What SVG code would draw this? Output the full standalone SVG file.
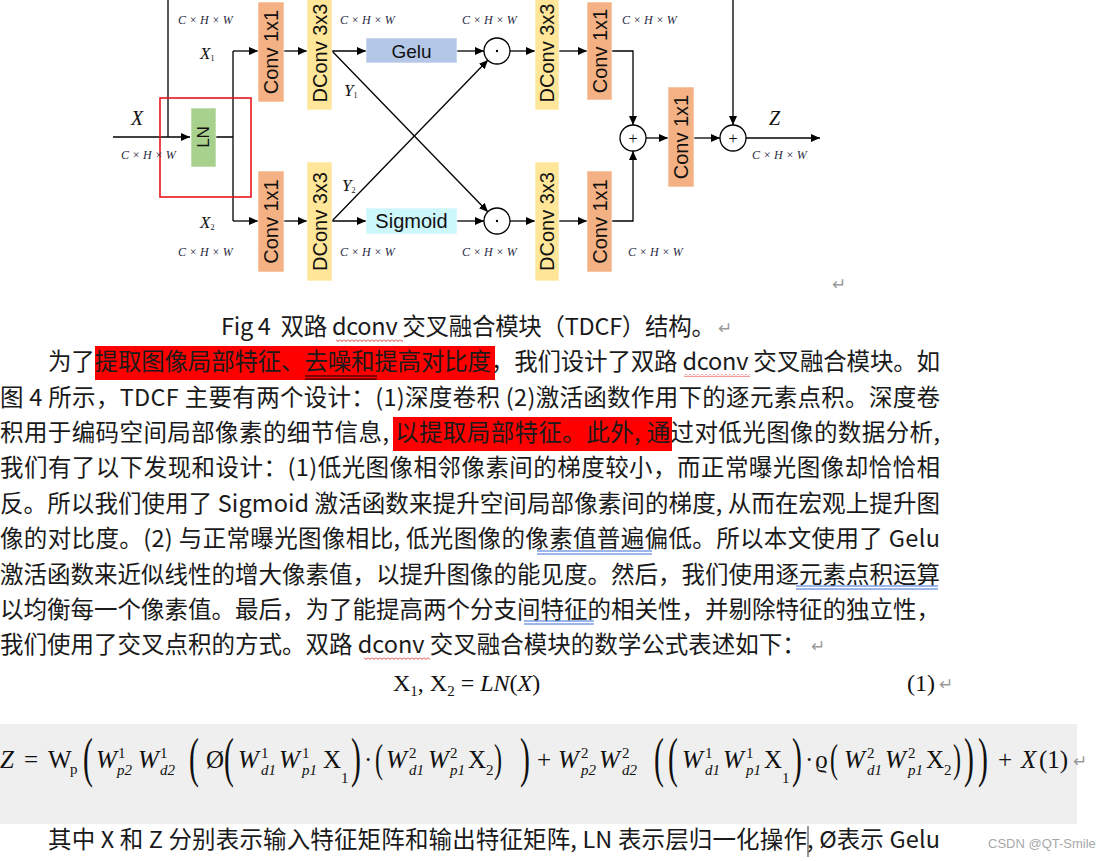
<svg xmlns="http://www.w3.org/2000/svg" width="1113" height="861" viewBox="0 0 1113 861">
<style>
.bx{stroke:#ffffff;stroke-width:1;stroke-opacity:0.6}
.conv{fill:#F4B183}
.dconv{fill:#FFE699}
.bt{font-family:"Liberation Sans",Arial,sans-serif;font-size:20px;fill:#111;text-anchor:middle;dominant-baseline:central}
.lbl{font-family:"Liberation Serif","Times New Roman",serif;font-style:italic;font-size:12px;fill:#2a2a44}
.var{font-family:"Liberation Serif","Times New Roman",serif;font-style:italic;font-size:20px;fill:#111}
.sub{font-size:8px;font-style:normal}
.e{stroke:#000;stroke-width:1.3;fill:none}
.ea{stroke:#000;stroke-width:1.3;fill:none;marker-end:url(#ah)}
.op{fill:#fff;stroke:#000;stroke-width:1.3}
.opt{font-family:"Liberation Serif",serif;font-size:16px;text-anchor:middle;dominant-baseline:central;fill:#000}
.body{font-family:"Noto Sans CJK SC","Noto Sans",sans-serif;font-size:23.5px;fill:#1a1a1a}
.ret{font-family:"DejaVu Sans",sans-serif;font-size:17px;fill:#9a9a9a}
.m{font-family:"Liberation Serif","Times New Roman",serif;font-size:25px;fill:#111}
.mi{font-family:"Liberation Serif","Times New Roman",serif;font-size:25px;font-style:italic;fill:#111}
.ms{font-family:"Liberation Serif","Times New Roman",serif;font-size:15px;fill:#111}
.msi{font-family:"Liberation Serif","Times New Roman",serif;font-size:15px;font-style:italic;fill:#111}
.bp{font-family:"Liberation Serif","Times New Roman",serif;font-size:54px;fill:#111}
.mp{font-family:"Liberation Serif","Times New Roman",serif;font-size:40px;fill:#111}
</style>
<defs>
<marker id="ah" viewBox="0 0 9 8" refX="9" refY="4" markerWidth="9" markerHeight="8" markerUnits="userSpaceOnUse" orient="auto"><path d="M0,0 L9,4 L0,8 z" fill="#000"/></marker>
<pattern id="wave" width="4" height="3" patternUnits="userSpaceOnUse"><path d="M0 0.5 L2 2.5 L4 0.5" stroke="#e02020" stroke-width="0.9" fill="none"/></pattern>
</defs>
<rect width="1113" height="861" fill="#fff"/>

<g id="connectors">
<path class="e" d="M168 0 V137"/>
<path class="ea" d="M113 137 H190"/>
<path class="e" d="M216 137 H233 M233 51 V221"/>
<path class="ea" d="M233 51 H258"/>
<path class="ea" d="M233 221 H258"/>
<path class="ea" d="M284 51 H307"/>
<path class="ea" d="M284 221 H307"/>
<path class="ea" d="M332 51 H366"/>
<path class="ea" d="M332 221 H366"/>
<path class="ea" d="M332 51 L488 212"/>
<path class="ea" d="M332 221 L488 60"/>
<path class="ea" d="M457 51 H484"/>
<path class="ea" d="M457 221 H484"/>
<path class="ea" d="M510 51 H535"/>
<path class="ea" d="M510 221 H535"/>
<path class="ea" d="M559 51 H587"/>
<path class="ea" d="M559 221 H587"/>
<path class="ea" d="M612 51 H633 V125"/>
<path class="ea" d="M612 221 H633 V151"/>
<path class="ea" d="M646 138 H668"/>
<path class="ea" d="M694 138 H720"/>
<path class="ea" d="M733 0 V125"/>
<path class="ea" d="M746 138 H820"/>
</g>

<g id="ln"><rect x="191" y="108" width="25" height="59" fill="#A9D18E" class="bx"/><text class="bt" transform="translate(203.5,137) rotate(-90)" style="font-size:17px">LN</text></g>
<rect x="160" y="98" width="91" height="99" fill="none" stroke="#e8161b" stroke-width="1.6"/>

<g id="conv1a"><rect class="conv bx" x="258" y="2" width="26" height="100"/><text class="bt" transform="translate(271,52) rotate(-90)">Conv 1x1</text></g>
<g id="dconv1a"><rect class="dconv bx" x="307" y="-2" width="25" height="112"/><text class="bt" transform="translate(319.5,53) rotate(-90)">DConv 3x3</text></g>
<g id="conv1b"><rect class="conv bx" x="258" y="171" width="26" height="101"/><text class="bt" transform="translate(271,221.5) rotate(-90)">Conv 1x1</text></g>
<g id="dconv1b"><rect class="dconv bx" x="307" y="162" width="25" height="119"/><text class="bt" transform="translate(319.5,221.5) rotate(-90)">DConv 3x3</text></g>

<g id="gelu"><rect x="366" y="38" width="91" height="25" fill="#B4C7E7" class="bx"/><text class="bt" x="411.5" y="51" style="font-size:19px">Gelu</text></g>
<g id="sigmoid"><rect x="366" y="208" width="91" height="26" fill="#CCF7FB" class="bx"/><text class="bt" x="411.5" y="221" style="font-size:20px">Sigmoid</text></g>

<g id="mul1"><circle class="op" cx="497" cy="51" r="13"/><circle cx="497" cy="51" r="1.2" fill="#000"/></g>
<g id="mul2"><circle class="op" cx="497" cy="221" r="13"/><circle cx="497" cy="221" r="1.2" fill="#000"/></g>

<g id="dconv2a"><rect class="dconv bx" x="535" y="-2" width="24" height="112"/><text class="bt" transform="translate(547,53) rotate(-90)">DConv 3x3</text></g>
<g id="conv2a"><rect class="conv bx" x="587" y="2" width="25" height="98"/><text class="bt" transform="translate(599.5,51) rotate(-90)">Conv 1x1</text></g>
<g id="dconv2b"><rect class="dconv bx" x="535" y="162" width="24" height="119"/><text class="bt" transform="translate(547,221.5) rotate(-90)">DConv 3x3</text></g>
<g id="conv2b"><rect class="conv bx" x="587" y="171" width="25" height="101"/><text class="bt" transform="translate(599.5,221.5) rotate(-90)">Conv 1x1</text></g>

<g id="add1"><circle class="op" cx="633" cy="138" r="13"/><text class="opt" x="633" y="138">+</text></g>
<g id="conv3"><rect class="conv bx" x="668" y="87" width="26" height="100"/><text class="bt" transform="translate(681,137) rotate(-90)">Conv 1x1</text></g>
<g id="add2"><circle class="op" cx="733" cy="138" r="13"/><text class="opt" x="733" y="138">+</text></g>

<g id="labels">
<text class="lbl" x="178" y="24">C × H × W</text>
<text class="lbl" x="340" y="24">C × H × W</text>
<text class="lbl" x="462" y="24">C × H × W</text>
<text class="lbl" x="622" y="24">C × H × W</text>
<text class="lbl" x="121" y="159">C × H × W</text>
<text class="lbl" x="178" y="256">C × H × W</text>
<text class="lbl" x="340" y="256">C × H × W</text>
<text class="lbl" x="462" y="256">C × H × W</text>
<text class="lbl" x="628" y="256">C × H × W</text>
<text class="lbl" x="752" y="159">C × H × W</text>
<text class="var" x="131" y="125">X</text>
<text class="var" x="200" y="59" style="font-size:17px">X<tspan class="sub" dy="2">1</tspan></text>
<text class="var" x="200" y="228" style="font-size:17px">X<tspan class="sub" dy="2">2</tspan></text>
<text class="var" x="344" y="96" style="font-size:17px">Y<tspan class="sub" dy="2">1</tspan></text>
<text class="var" x="342" y="191" style="font-size:17px">Y<tspan class="sub" dy="2">2</tspan></text>
<text class="var" x="769" y="125">Z</text>
</g>
<text class="ret" x="832" y="290">↵</text>

<text class="body" x="221" y="335" xml:space="preserve" textLength="494" lengthAdjust="spacing">Fig 4  双路 dconv 交叉融合模块（TDCF）结构。</text>
<text class="ret" x="718" y="334">↵</text>
<rect x="336" y="339" width="67" height="3" fill="url(#wave)"/>

<rect x="95" y="346" width="400" height="34" fill="#ff0000"/>
<rect x="393" y="417" width="279" height="34" fill="#ff0000"/>

<g id="para">
<text class="body" x="48" y="370" textLength="892" lengthAdjust="spacing">为了提取图像局部特征、去噪和提高对比度，我们设计了双路 dconv 交叉融合模块。如</text>
<text class="body" x="0" y="405.5" textLength="940" lengthAdjust="spacing">图 4 所示，TDCF 主要有两个设计：(1)深度卷积 (2)激活函数作用下的逐元素点积。深度卷</text>
<text class="body" x="0" y="441" textLength="940" lengthAdjust="spacing" xml:space="preserve">积用于编码空间局部像素的细节信息, 以提取局部特征。此外, 通过对低光图像的数据分析,</text>
<text class="body" x="0" y="476" textLength="940" lengthAdjust="spacing">我们有了以下发现和设计：(1)低光图像相邻像素间的梯度较小，而正常曝光图像却恰恰相</text>
<text class="body" x="0" y="511.5" textLength="940" lengthAdjust="spacing" xml:space="preserve">反。所以我们使用了 Sigmoid 激活函数来提升空间局部像素间的梯度, 从而在宏观上提升图</text>
<text class="body" x="0" y="547" textLength="940" lengthAdjust="spacing" xml:space="preserve">像的对比度。(2) 与正常曝光图像相比, 低光图像的像素值普遍偏低。所以本文使用了 Gelu</text>
<text class="body" x="0" y="582.5" textLength="940" lengthAdjust="spacing">激活函数来近似线性的增大像素值，以提升图像的能见度。然后，我们使用逐元素点积运算</text>
<text class="body" x="0" y="618" textLength="940" lengthAdjust="spacing">以均衡每一个像素值。最后，为了能提高两个分支间特征的相关性，并剔除特征的独立性，</text>
<text class="body" x="0" y="653">我们使用了交叉点积的方式。双路 dconv 交叉融合模块的数学公式表述如下：</text>
</g>
<text class="ret" x="811" y="652">↵</text>

<path d="M305 376 H377 M305 379 H377" stroke="#000" stroke-width="1"/>
<rect x="684" y="374" width="66" height="3" fill="url(#wave)"/>
<path d="M537 551 H652 M537 554 H652" stroke="#3a6fd8" stroke-width="1"/>
<path d="M796 586 H938 M796 589 H938" stroke="#3a6fd8" stroke-width="1"/>
<path d="M524 621 H594 M524 624 H594" stroke="#3a6fd8" stroke-width="1"/>
<rect x="364" y="657" width="66" height="3" fill="url(#wave)"/>

<text class="m" x="393" y="691" style="font-size:24px">X<tspan class="ms" dy="5">1</tspan><tspan dy="-5">, X</tspan><tspan class="ms" dy="5">2</tspan><tspan dy="-5"> = </tspan><tspan font-style="italic">LN</tspan>(<tspan font-style="italic">X</tspan>)</text>
<text class="m" x="907" y="691" style="font-size:24px">(1)</text>
<text class="ret" x="939" y="690">↵</text>

<rect x="0" y="724" width="1077" height="100" fill="#efefef"/>
<g id="formula2">
<text class="mi" x="0" y="768">Z</text>
<text class="m" x="24" y="768">=</text>
<text class="m" x="48" y="768">W</text><text class="ms" x="70" y="774">p</text>
<text class="bp" transform="translate(83,776) scale(0.55,1)">(</text>
<text class="mi" x="96" y="768">W</text><text class="ms" x="118" y="758">1</text><text class="msi" x="117" y="775">p2</text>
<text class="mi" x="138" y="768">W</text><text class="ms" x="160" y="758">1</text><text class="msi" x="160" y="775">d2</text>
<text class="bp" transform="translate(189,776) scale(0.55,1)">(</text>
<text class="m" x="206" y="768">Ø</text>
<text class="bp" transform="translate(224,776) scale(0.55,1)">(</text>
<text class="mi" x="238" y="768">W</text><text class="ms" x="261" y="758">1</text><text class="msi" x="261" y="775">d1</text>
<text class="mi" x="279" y="768">W</text><text class="ms" x="302" y="758">1</text><text class="msi" x="302" y="775">p1</text>
<text class="m" x="323" y="768">X</text><text class="ms" x="341" y="783">1</text>
<text class="bp" transform="translate(351,776) scale(0.55,1)">)</text>
<text class="m" x="364" y="768">·</text>
<text class="mp" transform="translate(375,772) scale(0.6,1)">(</text>
<text class="mi" x="386" y="768">W</text><text class="ms" x="409" y="758">2</text><text class="msi" x="409" y="775">d1</text>
<text class="mi" x="428" y="768">W</text><text class="ms" x="450" y="758">2</text><text class="msi" x="450" y="775">p1</text>
<text class="m" x="468" y="768">X</text><text class="ms" x="486" y="775">2</text>
<text class="mp" transform="translate(494,772) scale(0.6,1)">)</text>
<text class="bp" transform="translate(520,776) scale(0.55,1)">)</text>
<text class="m" x="537" y="768">+</text>
<text class="mi" x="558" y="768">W</text><text class="ms" x="581" y="758">2</text><text class="msi" x="581" y="775">p2</text>
<text class="mi" x="599" y="768">W</text><text class="ms" x="622" y="758">2</text><text class="msi" x="622" y="775">d2</text>
<text class="bp" transform="translate(654,776) scale(0.55,1)">(</text>
<text class="bp" transform="translate(668,776) scale(0.55,1)">(</text>
<text class="mi" x="682" y="768">W</text><text class="ms" x="705" y="758">1</text><text class="msi" x="705" y="775">d1</text>
<text class="mi" x="723" y="768">W</text><text class="ms" x="746" y="758">1</text><text class="msi" x="746" y="775">p1</text>
<text class="m" x="764" y="768">X</text><text class="ms" x="782" y="783">1</text>
<text class="bp" transform="translate(792,776) scale(0.55,1)">)</text>
<text class="m" x="805" y="768">·</text>
<text class="m" x="815" y="768">ϱ</text>
<text class="mp" transform="translate(830,772) scale(0.6,1)">(</text>
<text class="mi" x="844" y="768">W</text><text class="ms" x="867" y="758">2</text><text class="msi" x="867" y="775">d1</text>
<text class="mi" x="885" y="768">W</text><text class="ms" x="908" y="758">2</text><text class="msi" x="908" y="775">p1</text>
<text class="m" x="926" y="768">X</text><text class="ms" x="944" y="775">2</text>
<text class="mp" transform="translate(953,772) scale(0.6,1)">)</text>
<text class="bp" transform="translate(964,776) scale(0.55,1)">)</text>
<text class="bp" transform="translate(978,776) scale(0.55,1)">)</text>
<text class="m" x="998" y="768">+</text>
<text class="mi" x="1021" y="768">X</text>
<text class="m" x="1039" y="768">(1)</text>
</g>
<text class="ret" x="1073" y="767">↵</text>

<text class="body" x="48" y="848" textLength="892" lengthAdjust="spacing" xml:space="preserve">其中 X 和 Z 分别表示输入特征矩阵和输出特征矩阵, LN 表示层归一化操作, Ø表示 Gelu</text>
<path d="M808 826 V857" stroke="#333" stroke-width="1"/>
<text x="988" y="848" font-family="Liberation Sans, Arial, sans-serif" font-size="13" fill="#a8a8a8">CSDN @QT-Smile</text>
</svg>
